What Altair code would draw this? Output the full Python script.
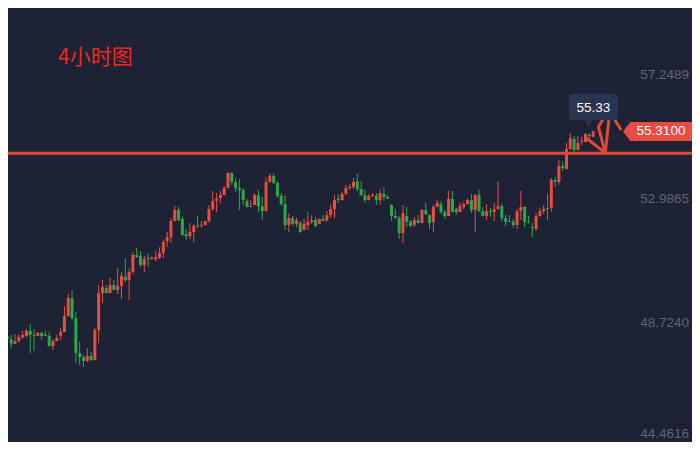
import altair as alt
import pandas as pd

# ---------------- data ----------------
opens = [48.26,48.17,48.01,48.10,48.24,48.28,48.45,48.31,48.28,48.38,48.31,48.28,47.93,48.10,48.28,48.41,48.96,49.58,48.89,47.69,
         47.55,47.42,47.59,47.45,48.48,49.75,49.93,49.75,50.03,49.86,50.00,50.30,50.20,50.48,51.06,51.03,50.72,50.96,50.92,50.92,
         50.96,51.13,51.54,51.68,52.23,52.61,52.30,51.78,51.71,51.85,52.09,52.06,52.09,52.23,52.64,52.92,53.02,53.12,53.36,53.88,
         53.57,53.36,53.29,52.92,52.71,52.78,53.12,52.74,52.57,53.57,53.78,53.54,53.09,52.81,52.09,52.33,52.13,52.16,51.92,52.09,
         52.20,52.26,52.13,52.30,52.26,52.43,52.64,52.99,52.95,53.16,53.36,53.40,53.60,53.33,53.12,52.95,53.09,53.09,52.95,53.16,
         53.05,52.78,52.40,52.33,51.82,52.40,52.20,52.09,52.26,52.16,52.61,52.43,52.20,52.71,52.81,52.54,52.40,52.99,52.64,52.54,
         52.71,52.81,52.95,52.61,53.12,52.57,52.40,52.57,52.54,52.64,52.74,52.33,52.23,52.20,52.09,52.57,52.71,52.20,52.02,51.95,
         52.40,52.57,52.68,52.68,53.64,53.57,54.12,54.02,54.70,55.05,54.67,54.95,54.95,55.19,55.12]
highs = [48.31,48.31,48.34,48.34,48.45,48.52,48.69,48.52,48.41,48.41,48.45,48.41,48.17,48.31,48.55,49.31,49.72,49.86,49.10,48.07,
         47.62,47.86,47.73,48.55,50.03,50.20,50.03,50.27,50.20,50.61,50.48,50.96,50.61,51.16,51.30,51.20,51.03,51.09,51.03,51.23,
         51.33,51.58,51.85,52.33,52.74,52.71,52.40,51.95,52.16,52.13,52.40,52.23,52.24,52.78,53.26,53.19,53.26,53.43,53.91,53.91,
         53.71,53.67,53.36,52.99,52.95,53.19,53.29,53.05,53.74,53.85,53.85,53.60,53.19,53.12,52.50,52.40,52.33,52.23,52.30,52.54,
         52.43,52.37,52.31,52.43,52.57,52.78,53.12,53.16,53.23,53.47,53.50,53.71,53.85,53.60,53.29,53.16,53.19,53.19,53.33,53.40,
         53.12,52.81,52.64,52.40,52.78,52.71,52.26,52.37,52.43,52.64,52.88,52.47,52.78,52.95,52.92,52.61,53.26,53.26,52.68,52.88,
         52.88,53.02,53.16,53.16,53.29,52.71,52.81,52.68,52.85,53.57,52.81,52.43,52.43,52.30,52.64,53.26,52.74,52.40,52.16,52.50,
         52.68,52.78,53.16,53.71,53.74,54.33,54.29,54.91,55.25,55.15,55.15,55.12,55.25,55.25,55.33]
lows = [47.93,47.84,48.00,48.07,48.17,48.24,47.69,47.76,48.27,48.14,48.27,47.92,47.79,48.09,48.14,48.40,48.95,48.79,47.35,47.28,
        47.21,47.38,47.42,47.44,48.03,49.41,49.74,49.74,49.85,49.72,49.55,50.13,49.51,50.41,50.96,50.65,50.48,50.65,50.89,50.85,
        50.92,50.96,51.33,51.47,52.22,52.23,51.71,51.58,51.61,51.51,51.99,51.99,52.08,52.16,52.57,52.54,52.85,53.11,53.35,53.47,
        53.23,52.61,52.78,52.70,52.70,52.77,52.54,52.26,52.56,53.56,53.50,53.02,52.74,51.92,51.85,52.06,52.02,51.82,51.91,51.92,
        52.13,52.02,52.12,52.22,52.20,52.33,52.33,52.85,52.92,53.12,53.29,53.33,53.26,53.09,52.88,52.94,53.05,52.78,52.78,52.92,
        52.98,52.23,52.32,51.61,51.47,52.02,52.02,52.02,52.15,52.15,52.43,51.95,51.85,52.70,52.47,52.30,52.39,52.53,52.43,52.53,
        52.64,52.80,52.50,51.85,52.54,52.37,52.26,52.37,52.23,52.61,52.23,52.06,52.19,51.99,51.95,52.26,52.02,52.15,51.68,51.89,
        52.37,52.47,52.26,52.54,53.40,53.47,53.95,54.01,54.69,54.60,54.66,54.84,54.94,54.98,55.11]
closes = [48.18,48.01,48.10,48.24,48.31,48.45,48.31,48.28,48.38,48.28,48.28,47.93,48.10,48.21,48.41,48.96,49.58,48.89,47.69,47.55,
          47.42,47.59,47.45,48.48,49.75,49.96,49.75,50.03,49.86,50.00,50.34,50.20,50.48,51.06,50.99,50.72,50.92,50.92,50.96,50.99,
          51.13,51.51,51.68,52.23,52.61,52.26,51.75,51.71,51.85,52.06,52.06,52.09,52.23,52.64,52.92,52.99,53.12,53.36,53.88,53.57,
          53.36,53.29,52.95,52.71,52.74,53.12,52.74,52.57,53.57,53.78,53.54,53.09,52.81,52.09,52.33,52.13,52.24,51.85,52.13,52.20,
          52.26,52.06,52.30,52.23,52.43,52.64,52.95,52.95,53.16,53.36,53.40,53.57,53.33,53.12,52.95,53.09,53.12,52.95,53.19,53.05,
          52.99,52.40,52.33,51.82,52.50,52.20,52.06,52.26,52.16,52.61,52.47,52.16,52.71,52.85,52.54,52.40,52.99,52.54,52.54,52.74,
          52.81,52.95,52.61,53.12,52.57,52.40,52.57,52.54,52.64,52.74,52.33,52.20,52.20,52.09,52.57,52.71,52.20,52.16,51.99,52.40,
          52.57,52.64,52.64,53.64,53.57,54.12,54.05,54.70,55.08,54.67,54.91,54.98,55.22,55.15,55.31]
bars = list(range(1, len(closes) + 1))

axis_ticks = [57.2489, 52.9865, 48.7240, 44.4616]
support_level = [54.56]
last_price = [55.31]
tooltip_value = ["55.33"]
title_text = "4小时图"

# hand-drawn arrow strokes (bar index / price)
fan_x = [153.5, 158.2, 158.2, 156.4]
fan_y = [55.05, 54.57, 54.57, 55.46]
fan_x2 = [158.2, 159.6, 156.4, 157.9]
fan_y2 = [54.57, 56.30, 55.46, 55.80]
slash_x = [160.4]
slash_y = [55.77]
slash_x2 = [162.2]
slash_y2 = [55.39]

# ---------------- style ----------------
BG = "#1d2235"
UP = "#ea4c42"
DOWN = "#2ba84a"
LINE = "#e24a2f"
W, H = 684, 434

xs = alt.Scale(domain=[2.477, 179.68], nice=False, zero=False)
ys = alt.Scale(domain=[44.631, 59.552], nice=False, zero=False)

df = pd.DataFrame({"i": bars, "open": opens, "high": highs, "low": lows, "close": closes})
col = alt.condition("datum.close >= datum.open", alt.value(UP), alt.value(DOWN))

base = alt.Chart(df)
wicks = base.mark_rule(strokeWidth=1, clip=True).encode(
    x=alt.X("i:Q", scale=xs, axis=None),
    y=alt.Y("low:Q", scale=ys, axis=None),
    y2="high:Q",
    color=col,
)
bodies = base.mark_bar(size=3, clip=True).encode(
    x=alt.X("i:Q", scale=xs, axis=None),
    y=alt.Y("open:Q", scale=ys, axis=None),
    y2="close:Q",
    color=col,
)

hline = alt.Chart(pd.DataFrame({"v": support_level})).mark_rule(
    strokeWidth=3, color=LINE
).encode(y=alt.Y("v:Q", scale=ys, axis=None))

fan_df = pd.DataFrame({"x": fan_x + slash_x, "y": fan_y + slash_y,
                       "x2": fan_x2 + slash_x2, "y2": fan_y2 + slash_y2})
fan = alt.Chart(fan_df).mark_rule(strokeWidth=3, color=LINE, strokeCap="round").encode(
    x=alt.X("x:Q", scale=xs, axis=None), x2="x2:Q",
    y=alt.Y("y:Q", scale=ys, axis=None), y2="y2:Q",
)

tip_box_df = pd.DataFrame({"x": [148.6], "x2": [161.5], "y": [55.70], "y2": [56.60]})
tip_box = alt.Chart(tip_box_df).mark_rect(color="#2a3450", cornerRadius=3).encode(
    x=alt.X("x:Q", scale=xs, axis=None), x2="x2:Q",
    y=alt.Y("y:Q", scale=ys, axis=None), y2="y2:Q",
)
tip_tail = alt.Chart(pd.DataFrame({"x": [153.8], "y": [55.58]})).mark_point(
    shape="M-1,-0.9L1,-0.9L0,0.9Z", filled=True, size=64, color="#2a3450", opacity=1
).encode(x=alt.X("x:Q", scale=xs, axis=None), y=alt.Y("y:Q", scale=ys, axis=None))
tip_text = alt.Chart(pd.DataFrame({"x": [155.05], "y": [56.13], "t": tooltip_value})).mark_text(
    color="white", fontSize=13.5, font="Liberation Sans", align="center", baseline="middle"
).encode(x=alt.X("x:Q", scale=xs, axis=None), y=alt.Y("y:Q", scale=ys, axis=None), text="t:N")

price_df = pd.DataFrame({"p": last_price})
tag_rect = alt.Chart(price_df).mark_rule(strokeWidth=19, color=UP).encode(
    x=alt.value(622), x2=alt.value(W), y=alt.Y("p:Q", scale=ys, axis=None)
)
tag_tip = alt.Chart(price_df).mark_point(
    shape="M0.26,0L1.05,-1L1.05,1Z", filled=True, size=361, color=UP, opacity=1
).encode(x=alt.value(612.5), y=alt.Y("p:Q", scale=ys, axis=None))
tag_text = alt.Chart(price_df).mark_text(
    color="white", fontSize=13.5, font="Liberation Sans", align="center", baseline="middle"
).encode(x=alt.value(653), y=alt.Y("p:Q", scale=ys, axis=None), text=alt.Text("p:Q", format=".4f"))

tick_df = pd.DataFrame({"v": axis_ticks})
tick_style = dict(color="#5e6677", fontSize=13.5, font="Liberation Sans", align="right")
ticks = alt.Chart(tick_df).transform_filter("datum.v > 45").mark_text(
    baseline="middle", **tick_style
).encode(x=alt.value(681), y=alt.Y("v:Q", scale=ys, axis=None), text=alt.Text("v:Q", format=".4f"))
# lowest label sits on the bottom edge; keep it inside the view
ticks_edge = alt.Chart(tick_df).transform_filter("datum.v <= 45").mark_text(
    baseline="bottom", dy=-6, **tick_style
).encode(x=alt.value(681), y=alt.Y("v:Q", scale=ys, axis=None), text=alt.Text("v:Q", format=".4f"))

title = alt.Chart(pd.DataFrame({"t": [title_text]})).mark_text(
    color="#f0281e", fontSize=21, font="Noto Sans CJK SC", align="left", baseline="middle"
).encode(x=alt.value(50), y=alt.value(50), text="t:N")

chart = alt.layer(
    wicks, bodies, hline, fan, tip_box, tip_tail, tip_text,
    tag_rect, tag_tip, tag_text, ticks, ticks_edge, title
).properties(
    width=W, height=H, padding=0, autosize="none", background=BG
).configure_view(stroke=None, fill=BG)

chart.save("out.html", embed_options={"renderer": "svg", "actions": False})
